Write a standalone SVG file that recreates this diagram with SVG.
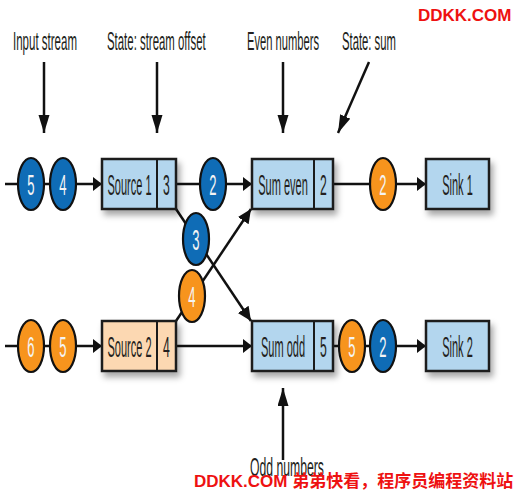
<svg xmlns="http://www.w3.org/2000/svg" width="518" height="490" viewBox="0 0 518 490">
<style>
.lbl{font-family:"Liberation Sans",Arial,sans-serif;font-size:26px;fill:#231f20}
.bt{font-family:"Liberation Sans",Arial,sans-serif;font-size:29px;fill:#231f20;text-anchor:middle}
.ct{font-family:"Liberation Sans",Arial,sans-serif;font-size:29px;fill:#f4f4f4;text-anchor:middle}
.box{stroke:#1a1a1a;stroke-width:2.5;filter:url(#sh)}
.blue{fill:#b3d6ee}
.peach{fill:#fcd8b2}
.div{stroke:#1a1a1a;stroke-width:2}
.cb{fill:#0f6cb6;stroke:#111;stroke-width:2.2}
.co{fill:#f7941d;stroke:#111;stroke-width:2.2}
.ln{stroke:#111;stroke-width:2.5;fill:none}
.wm{font-family:"Liberation Sans","Noto Sans CJK SC",sans-serif;font-weight:bold;font-size:17px;fill:#ee1111}
</style>
<defs>
<filter id="sh" x="-20%" y="-20%" width="150%" height="160%">
<feDropShadow dx="3" dy="5" stdDeviation="3" flood-color="#000" flood-opacity="0.35"/>
</filter>
<marker id="ah" markerUnits="userSpaceOnUse" markerWidth="10" markerHeight="16" refX="9" refY="7" orient="auto">
<path d="M0,0 L9,7 L0,14 z" fill="#111"/>
</marker>
<marker id="av" markerUnits="userSpaceOnUse" markerWidth="19" markerHeight="12" refX="18" refY="5.5" orient="auto">
<path d="M0,0 L18,5.5 L0,11 z" fill="#111"/>
</marker>
<marker id="ad" markerUnits="userSpaceOnUse" markerWidth="15" markerHeight="14" refX="14" refY="6.5" orient="auto">
<path d="M0,0 L14,6.5 L0,13 z" fill="#111"/>
</marker>
</defs>
<rect width="518" height="490" fill="#fff"/>

<g id="connectors">
<line class="ln" x1="5" y1="184" x2="102" y2="184" marker-end="url(#ah)"/>
<line class="ln" x1="176" y1="184" x2="252" y2="184" marker-end="url(#ah)"/>
<line class="ln" x1="333" y1="184" x2="426" y2="184" marker-end="url(#ah)"/>
<line class="ln" x1="5" y1="346" x2="102" y2="346" marker-end="url(#ah)"/>
<line class="ln" x1="176" y1="346" x2="252" y2="346" marker-end="url(#ah)"/>
<line class="ln" x1="333" y1="346" x2="426" y2="346" marker-end="url(#ah)"/>
<line class="ln" x1="176" y1="209" x2="251" y2="321" marker-end="url(#ad)"/>
<line class="ln" x1="176" y1="321" x2="251" y2="209" marker-end="url(#ad)"/>
<line class="ln" x1="44" y1="62" x2="44" y2="133" marker-end="url(#av)"/>
<line class="ln" x1="157" y1="62" x2="157" y2="133" marker-end="url(#av)"/>
<line class="ln" x1="283" y1="62" x2="283" y2="133" marker-end="url(#av)"/>
<line class="ln" x1="369" y1="62" x2="338" y2="133" marker-end="url(#av)"/>
<line class="ln" x1="283" y1="460" x2="283" y2="388" marker-end="url(#av)"/>
</g>

<g id="source1">
<rect class="box blue" x="102" y="159" width="74" height="50"/>
<line class="div" x1="157" y1="159" x2="157" y2="209"/>
<text class="bt" transform="translate(129.5,194.5) scale(0.38,1)">Source 1</text>
<text class="bt" transform="translate(166.5,194.5) scale(0.42,1)">3</text>
</g>
<g id="sumeven">
<rect class="box blue" x="252" y="159" width="81" height="50"/>
<line class="div" x1="314" y1="159" x2="314" y2="209"/>
<text class="bt" transform="translate(283,194.5) scale(0.38,1)">Sum even</text>
<text class="bt" transform="translate(323.5,194.5) scale(0.42,1)">2</text>
</g>
<g id="sink1">
<rect class="box blue" x="426" y="159" width="63" height="50"/>
<text class="bt" transform="translate(457.5,194.5) scale(0.38,1)">Sink 1</text>
</g>
<g id="source2">
<rect class="box peach" x="102" y="321" width="74" height="50"/>
<line class="div" x1="157" y1="321" x2="157" y2="371"/>
<text class="bt" transform="translate(129.5,356.5) scale(0.38,1)">Source 2</text>
<text class="bt" transform="translate(166.5,356.5) scale(0.42,1)">4</text>
</g>
<g id="sumodd">
<rect class="box blue" x="252" y="321" width="81" height="50"/>
<line class="div" x1="314" y1="321" x2="314" y2="371"/>
<text class="bt" transform="translate(283,356.5) scale(0.38,1)">Sum odd</text>
<text class="bt" transform="translate(323.5,356.5) scale(0.42,1)">5</text>
</g>
<g id="sink2">
<rect class="box blue" x="426" y="321" width="63" height="50"/>
<text class="bt" transform="translate(457.5,356.5) scale(0.38,1)">Sink 2</text>
</g>

<g id="event-b5"><ellipse class="cb" cx="31" cy="184" rx="13" ry="26"/><text class="ct" transform="translate(31,194.5) scale(0.45,1)">5</text></g>
<g id="event-b4"><ellipse class="cb" cx="63" cy="184" rx="13" ry="26"/><text class="ct" transform="translate(63,194.5) scale(0.45,1)">4</text></g>
<g id="event-b2"><ellipse class="cb" cx="213" cy="184" rx="13" ry="26"/><text class="ct" transform="translate(213,194.5) scale(0.45,1)">2</text></g>
<g id="event-b3"><ellipse class="cb" cx="196" cy="239" rx="13" ry="26"/><text class="ct" transform="translate(196,249.5) scale(0.45,1)">3</text></g>
<g id="event-o2"><ellipse class="co" cx="383" cy="184" rx="13" ry="26"/><text class="ct" transform="translate(383,194.5) scale(0.45,1)">2</text></g>
<g id="event-o6"><ellipse class="co" cx="31" cy="346" rx="13" ry="26"/><text class="ct" transform="translate(31,356.5) scale(0.45,1)">6</text></g>
<g id="event-o5"><ellipse class="co" cx="63" cy="346" rx="13" ry="26"/><text class="ct" transform="translate(63,356.5) scale(0.45,1)">5</text></g>
<g id="event-o4"><ellipse class="co" cx="192" cy="296" rx="13" ry="26"/><text class="ct" transform="translate(192,306.5) scale(0.45,1)">4</text></g>
<g id="event-o5b"><ellipse class="co" cx="352" cy="346" rx="13" ry="26"/><text class="ct" transform="translate(352,356.5) scale(0.45,1)">5</text></g>
<g id="event-b2b"><ellipse class="cb" cx="383" cy="346" rx="13" ry="26"/><text class="ct" transform="translate(383,356.5) scale(0.45,1)">2</text></g>

<g id="labels">
<text class="lbl" transform="translate(13,50) scale(0.443,1)">Input stream</text>
<text class="lbl" transform="translate(107,50) scale(0.439,1)">State: stream offset</text>
<text class="lbl" transform="translate(247,50) scale(0.43,1)">Even numbers</text>
<text class="lbl" transform="translate(342,50) scale(0.434,1)">State: sum</text>
<text class="lbl" transform="translate(250,476) scale(0.47,1)">Odd numbers</text>
</g>

<g id="watermark">
<text class="wm" x="418" y="21">DDKK.COM</text>
<text class="wm" x="194" y="487">DDKK.COM 弟弟快看，程序员编程资料站</text>
</g>
</svg>
